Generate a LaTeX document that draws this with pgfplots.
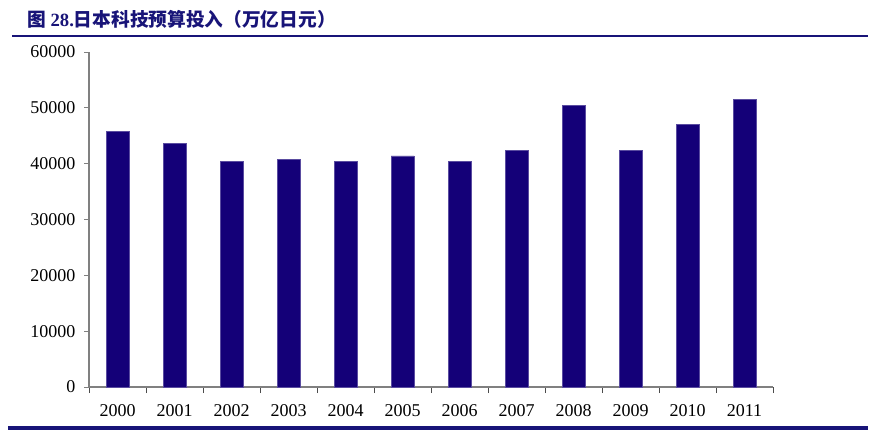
\documentclass[border=0pt]{standalone}
\usepackage{fontspec}
\setmainfont{Liberation Serif}
\newfontfamily\cjk{Noto Sans CJK SC}
\usepackage{pgfplots}
\pgfplotsset{compat=1.18}
\definecolor{barblue}{RGB}{20,0,120}
\definecolor{titleblue}{RGB}{24,20,120}
\definecolor{axisgray}{RGB}{128,128,128}
\begin{document}
\begin{tikzpicture}[x=1pt,y=1pt]
  \path[use as bounding box] (0,0) rectangle (880,-430);
  % title and rules
  \node[anchor=base west, inner sep=0, text=titleblue,
        font=\fontsize{18.7pt}{20pt}\selectfont\bfseries]
    at (27,-27) {{\cjk 图} 28.{\cjk 日本科技预算投入（万亿日元）}};
  \draw[titleblue, line width=2.5pt] (12,-36) -- (868,-36);
  \draw[titleblue, line width=3.5pt] (8,-428) -- (868,-428);
  \begin{axis}[
    at={(89pt,-387pt)}, anchor=south west,
    scale only axis,
    width=684pt, height=335pt,
    ybar, bar width=23pt,
    xmin=-0.5, xmax=11.5,
    ymin=0, ymax=60000,
    ytick={0,10000,...,60000},
    xtick={0,...,11},
    xticklabels={2000,2001,2002,2003,2004,2005,2006,2007,2008,2009,2010,2011},
    minor xtick={-0.5,0.5,...,11.5},
    axis x line=bottom, axis y line=left,
    axis line style={-, axisgray, line width=1.3pt},
    tick align=outside,
    major tick length=5pt, minor tick length=6pt,
    major x tick style={draw=none},
    minor x tick style={black!70, line width=1pt},
    ytick style={axisgray, line width=1pt},
    tick label style={font=\fontsize{18pt}{20pt}\selectfont},
    xticklabel style={yshift=-9pt},
    yticklabel style={xshift=-5pt},
    /pgf/number format/assume math mode=true,
    /pgf/number format/1000 sep={},
    scaled y ticks=false,
  ]
    \addplot[fill=barblue, draw=barblue!70!white, line width=0.5pt] coordinates {
      (0,45800) (1,43600) (2,40400) (3,40800) (4,40400) (5,41400)
      (6,40400) (7,42400) (8,50500) (9,42400) (10,47000) (11,51500)
    };
  \end{axis}
\end{tikzpicture}
\end{document}
